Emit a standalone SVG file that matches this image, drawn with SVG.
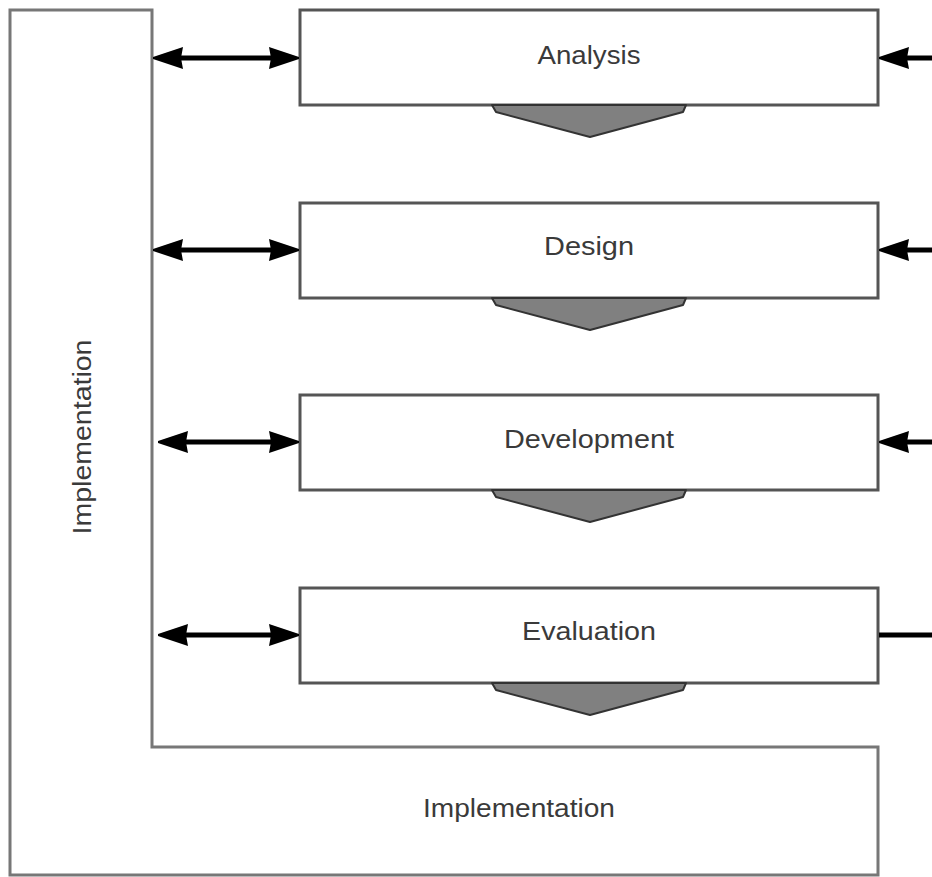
<svg xmlns="http://www.w3.org/2000/svg" xmlns:xlink="http://www.w3.org/1999/xlink" width="932" height="877" viewBox="0 0 932 877">
<style>
.box{fill:#fff;stroke:#555;stroke-width:3}
.frame{fill:#fff;stroke:#777;stroke-width:3}
.lbl{font-family:"Liberation Sans",Arial,sans-serif;font-size:25px;fill:#3a3a3a;text-anchor:middle;dominant-baseline:central}
.chev{fill:#808080;stroke:#333;stroke-width:2;stroke-linejoin:round}
.conn{stroke:#000;stroke-width:5;fill:none}
</style>
<defs>
<marker id="ah" markerUnits="userSpaceOnUse" markerWidth="30" markerHeight="24" viewBox="0 0 30 24" refX="24" refY="12" orient="auto-start-reverse">
<path d="M0,1 L30,11 L30,13 L0,23 L2,12 z" fill="#000"/>
</marker>
<path id="chevron" class="chev" d="M-98,0 L96,0 L93,7 L0,32 L-94,7 z"/>
</defs>
<g id="implementation">
<path class="frame" d="M10,10 L152,10 L152,747 L878,747 L878,875 L10,875 z"/>
<text class="lbl" x="0" y="0" transform="translate(82,437) rotate(-90)" textLength="195" lengthAdjust="spacingAndGlyphs">Implementation</text>
<text class="lbl" x="519" y="808" textLength="192" lengthAdjust="spacingAndGlyphs">Implementation</text>
</g>
<g id="analysis">
<rect class="box" x="300" y="10" width="578" height="95"/>
<use xlink:href="#chevron" href="#chevron" transform="translate(590,105)"/>
<text class="lbl" x="589" y="55" textLength="103" lengthAdjust="spacingAndGlyphs">Analysis</text>
</g>
<g id="design">
<rect class="box" x="300" y="203" width="578" height="95"/>
<use xlink:href="#chevron" href="#chevron" transform="translate(590,298)"/>
<text class="lbl" x="589" y="246" textLength="90" lengthAdjust="spacingAndGlyphs">Design</text>
</g>
<g id="development">
<rect class="box" x="300" y="395" width="578" height="95"/>
<use xlink:href="#chevron" href="#chevron" transform="translate(590,490)"/>
<text class="lbl" x="589" y="439" textLength="170" lengthAdjust="spacingAndGlyphs">Development</text>
</g>
<g id="evaluation">
<rect class="box" x="300" y="588" width="578" height="95"/>
<use xlink:href="#chevron" href="#chevron" transform="translate(590,683)"/>
<text class="lbl" x="589" y="631" textLength="134" lengthAdjust="spacingAndGlyphs">Evaluation</text>
</g>
<g id="connectors">
<line class="conn" x1="159" y1="58" x2="293" y2="58" marker-start="url(#ah)" marker-end="url(#ah)"/>
<line class="conn" x1="159" y1="250" x2="293" y2="250" marker-start="url(#ah)" marker-end="url(#ah)"/>
<line class="conn" x1="164" y1="442" x2="293" y2="442" marker-start="url(#ah)" marker-end="url(#ah)"/>
<line class="conn" x1="164" y1="635" x2="293" y2="635" marker-start="url(#ah)" marker-end="url(#ah)"/>
<line class="conn" x1="932" y1="58" x2="885" y2="58" marker-end="url(#ah)"/>
<line class="conn" x1="932" y1="250" x2="885" y2="250" marker-end="url(#ah)"/>
<line class="conn" x1="932" y1="442" x2="885" y2="442" marker-end="url(#ah)"/>
<line class="conn" x1="932" y1="635" x2="879" y2="635"/>
</g>
</svg>
